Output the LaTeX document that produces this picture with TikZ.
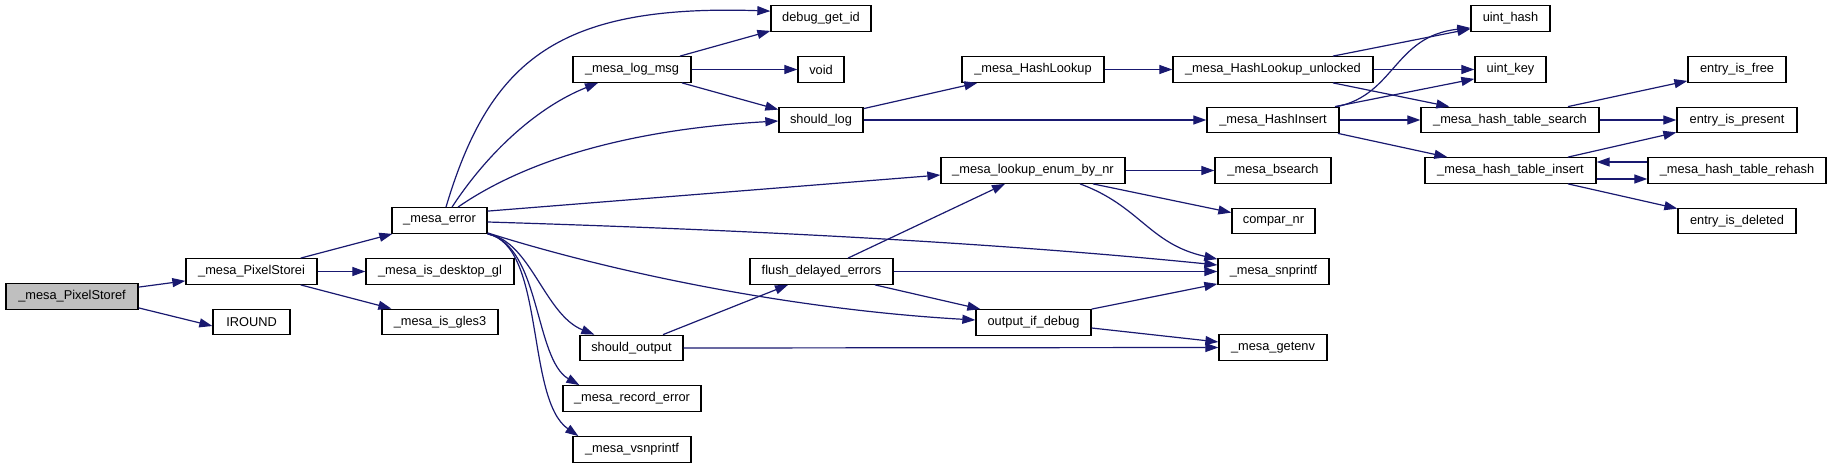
\documentclass[tikz,border=0pt]{standalone}
\usepackage{fontspec}
\setmainfont{Liberation Sans}
\usetikzlibrary{arrows.meta}
\definecolor{edgeblue}{RGB}{25,25,112}
\definecolor{rootgray}{RGB}{191,191,191}
\tikzset{
  fn/.style={draw=black, line width=1.3pt, fill=white, inner sep=0pt, minimum height=25.5pt,
    font=\fontsize{12.8}{14}\selectfont, anchor=center},
  call/.style={draw=edgeblue, line width=1.2pt, -{Triangle[length=13pt,width=9pt]}},
}
\begin{document}
\begin{tikzpicture}[x=1pt,y=-1pt]
\useasboundingbox[fill=white] (0,0) rectangle (1832,468);
% nodes
\node[fn, fill=rootgray, minimum width=132] (psf) at (72,296.5) {\_mesa\_PixelStoref};
\node[fn, minimum width=131] (psi) at (251.5,271.5) {\_mesa\_PixelStorei};
\node[fn, minimum width=77] (iround) at (251.5,322) {IROUND};
\node[fn, minimum width=95] (err) at (439.5,220.5) {\_mesa\_error};
\node[fn, minimum width=148] (desk) at (440,271.5) {\_mesa\_is\_desktop\_gl};
\node[fn, minimum width=116] (gles3) at (440,322) {\_mesa\_is\_gles3};
\node[fn, minimum width=100] (dbg) at (821,18.5) {debug\_get\_id};
\node[fn, minimum width=118] (logmsg) at (632,69.5) {\_mesa\_log\_msg};
\node[fn, minimum width=46] (void) at (821,69.5) {void};
\node[fn, minimum width=84] (shlog) at (821,120) {should\_log};
\node[fn, minimum width=143] (flush) at (821.5,271.5) {flush\_delayed\_errors};
\node[fn, minimum width=103] (shout) at (631.5,348) {should\_output};
\node[fn, minimum width=138] (rec) at (632,398.5) {\_mesa\_record\_error};
\node[fn, minimum width=118] (vsn) at (632,449.5) {\_mesa\_vsnprintf};
\node[fn, minimum width=142] (hlook) at (1033,69.5) {\_mesa\_HashLookup};
\node[fn, minimum width=200] (hlu) at (1273,69.5) {\_mesa\_HashLookup\_unlocked};
\node[fn, minimum width=132] (hins) at (1273,120) {\_mesa\_HashInsert};
\node[fn, minimum width=184] (lookup) at (1033,170.5) {\_mesa\_lookup\_enum\_by\_nr};
\node[fn, minimum width=116] (bsearch) at (1273,170.5) {\_mesa\_bsearch};
\node[fn, minimum width=83] (compar) at (1273.5,221) {compar\_nr};
\node[fn, minimum width=111] (snp) at (1273.5,271.5) {\_mesa\_snprintf};
\node[fn, minimum width=115] (oid) at (1033.5,322.5) {output\_if\_debug};
\node[fn, minimum width=108] (getenv) at (1273,347.5) {\_mesa\_getenv};
\node[fn, minimum width=79] (uhash) at (1510.5,18.5) {uint\_hash};
\node[fn, minimum width=71] (ukey) at (1510.5,69.5) {uint\_key};
\node[fn, minimum width=98] (free) at (1737,69.5) {entry\_is\_free};
\node[fn, minimum width=178] (hts) at (1510,120) {\_mesa\_hash\_table\_search};
\node[fn, minimum width=120] (present) at (1737,120) {entry\_is\_present};
\node[fn, minimum width=171] (hti) at (1510.5,170.5) {\_mesa\_hash\_table\_insert};
\node[fn, minimum width=178] (rehash) at (1737,170.5) {\_mesa\_hash\_table\_rehash};
\node[fn, minimum width=118] (deleted) at (1737,221) {entry\_is\_deleted};
% edges
\draw[call] ([yshift=-4]psf.north east) -- ([yshift=4]psi.south west);
\draw[call] ([yshift=2]psf.south east) -- ([yshift=-4]iround.west);
\draw[call] ([xshift=-17]psi.north east) -- ([xshift=1]err.south west);
\draw[call] (psi.east) -- (desk.west);
\draw[call] ([xshift=-17]psi.south east) -- ([xshift=10]gles3.north west);
\draw[call] ([xshift=6.5]err.north) .. controls +(44,-148) and +(-211,-7) .. ([yshift=-6]dbg.north west);
\draw[call] ([xshift=12.5]err.north) .. controls +(38,-58) and +(-58,23) .. ([xshift=-34]logmsg.south);
\draw[call] ([xshift=18.5]err.north) .. controls +(62,-43) and +(-159,9) .. ([yshift=-1]shlog.west);
\draw[call] ([yshift=-4]err.north east) -- ([yshift=-4.5]lookup.west);
\draw[call] ([yshift=-1.5]err.east) .. controls +(263,8) and +(-218,-22) .. ([yshift=6.5]snp.west);
\draw[call] ([yshift=1]err.south east) .. controls +(133,42) and +(-176,-10) .. ([yshift=2.5]oid.west);
\draw[call] (err.south east) .. controls +(43,7) and +(-50,-20) .. ([xshift=15]shout.north west);
\draw[call] (err.south east) .. controls +(53,12) and +(-45,-26) .. ([xshift=17]rec.north west);
\draw[call] (err.south east) .. controls +(58,12) and +(-53,-37) .. ([xshift=6]vsn.north west);
\draw[call] ([xshift=48]logmsg.north) -- ([yshift=1]dbg.south west);
\draw[call] (logmsg.east) -- (void.west);
\draw[call] ([xshift=50]logmsg.south) -- ([yshift=-3]shlog.north west);
\draw[call] ([yshift=-2]shlog.north east) -- ([xshift=16]hlook.south west);
\draw[call] (shlog.east) -- (hins.west);
\draw[call] (hlook.east) -- (hlu.west);
\draw[call] ([xshift=60]hlu.north) -- ([yshift=3]uhash.south west);
\draw[call] (hlu.east) -- (ukey.west);
\draw[call] ([xshift=60]hlu.south) -- ([xshift=29]hts.north west);
\draw[call] ([xshift=64]hins.north) .. controls +(58,-12) and +(-76,8) .. ([yshift=4]uhash.south west);
\draw[call] ([xshift=62]hins.north) -- ([yshift=4]ukey.south west);
\draw[call] (hins.east) -- (hts.west);
\draw[call] ([xshift=65]hins.south) -- ([xshift=23]hti.north west);
\draw[call] (lookup.east) -- (bsearch.west);
\draw[call] ([xshift=60]lookup.south) -- ([yshift=-5]compar.north west);
\draw[call] ([xshift=47]lookup.south) .. controls +(60,22) and +(-68,-15) .. ([yshift=-1]snp.north west);
\draw[call] ([xshift=26.5]flush.north) -- ([xshift=-28]lookup.south);
\draw[call] (flush.east) -- (snp.west);
\draw[call] ([xshift=53.5]flush.south) -- ([xshift=5]oid.north west);
\draw[call] ([xshift=31.5]shout.north) -- ([xshift=-33.5]flush.south);
\draw[call] (shout.east) -- (getenv.west);
\draw[call] (oid.north east) -- ([yshift=1]snp.south west);
\draw[call] ([yshift=-5.5]oid.east) -- ([yshift=5.5]getenv.west);
\draw[call] ([xshift=58]hts.north) -- ([yshift=2]free.south west);
\draw[call] (hts.east) -- (present.west);
\draw[call] ([xshift=57.5]hti.north) -- ([yshift=1]present.south west);
\draw[call] ([yshift=-8.5]hti.east) -- ([yshift=-8.5]rehash.west);
\draw[call] ([yshift=8.5]rehash.west) -- ([yshift=8.5]hti.east);
\draw[call] ([xshift=57.5]hti.south) -- ([yshift=-1]deleted.north west);
\end{tikzpicture}
\end{document}
